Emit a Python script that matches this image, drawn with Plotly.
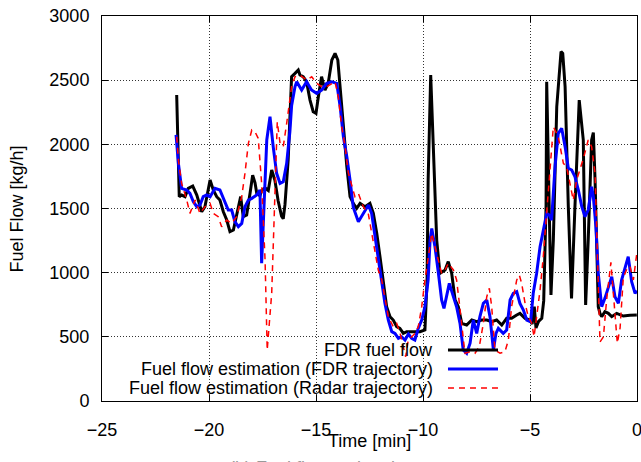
import plotly.graph_objects as go

# ---- data (time in minutes, fuel flow in kg/h) ----
fdr_t = [-21.51,-21.39,-21.28,-21.12,-20.97,-20.76,-20.57,-20.34,-20.19,-19.95,-19.80,-19.64,-19.49,-19.33,-19.17,-19.02,-18.86,-18.71,-18.52,-18.40,-18.24,-18.08,-17.96,-17.85,-17.77,-17.62,-17.54,-17.38,-17.23,-17.07,-16.92,-16.77,-16.61,-16.53,-16.45,-16.30,-16.14,-15.98,-15.83,-15.75,-15.60,-15.44,-15.28,-15.13,-15.00,-14.89,-14.74,-14.58,-14.43,-14.26,-14.11,-13.98,-13.87,-13.72,-13.56,-13.41,-13.26,-13.10,-12.94,-12.71,-12.48,-12.32,-12.16,-12.01,-11.85,-11.70,-11.54,-11.39,-11.23,-11.08,-10.92,-10.76,-10.61,-10.14,-9.91,-9.81,-9.76,-9.64,-9.36,-9.21,-8.97,-8.82,-8.66,-8.50,-8.35,-8.19,-7.96,-7.72,-7.49,-7.26,-7.02,-6.79,-6.56,-6.32,-6.09,-5.86,-5.62,-5.47,-5.23,-5.00,-4.90,-4.80,-4.72,-4.60,-4.45,-4.36,-4.25,-4.22,-4.02,-3.91,-3.75,-3.60,-3.55,-3.47,-3.36,-3.21,-3.06,-2.90,-2.74,-2.70,-2.51,-2.40,-2.28,-2.12,-2.04,-1.96,-1.81,-1.73,-1.65,-1.50,-1.34,-1.18,-0.95,-0.64,-0.33,-0.01]
fdr_v = [2384,1592,1605,1592,1657,1675,1605,1475,1514,1722,1644,1592,1566,1475,1410,1319,1332,1436,1592,1436,1449,1620,1760,1700,1620,1600,1640,1660,1640,1800,1720,1560,1440,1420,1530,1880,2527,2553,2579,2540,2527,2488,2345,2254,2241,2371,2527,2423,2475,2657,2709,2657,2449,2111,1826,1592,1540,1501,1540,1514,1540,1462,1306,1124,917,735,657,631,579,566,527,540,540,540,553,943,1722,2540,1254,995,1021,1086,995,787,735,605,592,631,618,631,631,618,631,592,644,644,670,683,644,631,600,735,570,620,644,780,1514,2488,826,1254,2293,2683,2722,2709,2450,1514,800,1514,2293,2345,2034,748,1254,2034,2091,1722,735,683,657,696,683,657,683,662,668,670]

est_fdr_t = [-21.54,-21.43,-21.28,-21.04,-20.89,-20.73,-20.57,-20.42,-20.27,-20.11,-19.95,-19.72,-19.49,-19.25,-19.10,-18.94,-18.79,-18.63,-18.47,-18.32,-18.16,-18.00,-17.77,-17.62,-17.54,-17.30,-17.15,-17.00,-16.84,-16.68,-16.53,-16.37,-16.22,-16.14,-15.98,-15.90,-15.67,-15.44,-15.21,-14.97,-14.74,-14.50,-14.26,-14.03,-13.87,-13.72,-13.56,-13.41,-13.26,-13.02,-12.79,-12.55,-12.40,-12.24,-12.09,-11.93,-11.78,-11.62,-11.46,-11.31,-11.15,-11.00,-10.84,-10.68,-10.53,-10.38,-10.22,-10.06,-9.91,-9.76,-9.67,-9.59,-9.44,-9.28,-9.13,-9.02,-8.89,-8.77,-8.58,-8.43,-8.27,-8.12,-7.96,-7.80,-7.65,-7.49,-7.34,-7.18,-7.02,-6.87,-6.71,-6.59,-6.48,-6.25,-6.09,-5.93,-5.78,-5.62,-5.47,-5.31,-5.15,-4.97,-4.85,-4.69,-4.53,-4.38,-4.22,-4.10,-3.99,-3.83,-3.68,-3.52,-3.36,-3.21,-3.05,-2.90,-2.74,-2.58,-2.43,-2.28,-2.12,-2.04,-1.92,-1.81,-1.65,-1.50,-1.34,-1.18,-1.03,-0.87,-0.72,-0.56,-0.41,-0.25,-0.09,-0.01]
est_fdr_v = [2073,1852,1657,1644,1618,1553,1514,1527,1592,1605,1592,1657,1644,1540,1488,1488,1397,1358,1384,1514,1566,1579,1605,1644,1073,2034,2215,1982,1774,1696,1709,1852,2100,2300,2450,2488,2423,2488,2423,2397,2423,2475,2488,2475,2293,2059,1904,1722,1510,1397,1462,1527,1462,1280,1124,943,761,631,540,527,488,501,475,522,488,475,566,631,735,943,1254,1345,1202,995,787,722,839,917,813,735,605,397,372,450,631,527,657,761,787,657,397,527,566,527,553,787,839,852,761,709,631,618,839,995,1202,1332,1462,1449,1410,1826,2086,2125,1982,1813,1800,1748,1644,1514,1436,1488,1670,1592,1358,995,735,800,891,969,813,761,943,1047,1125,930,839,860]

est_radar_t = [-21.51,-21.43,-21.28,-21.04,-20.89,-20.65,-20.42,-20.19,-19.95,-19.80,-19.57,-19.41,-19.17,-18.94,-18.71,-18.47,-18.32,-18.16,-18.00,-17.85,-17.70,-17.54,-17.38,-17.28,-17.07,-16.92,-16.81,-16.68,-16.53,-16.37,-16.14,-15.98,-15.75,-15.43,-15.20,-14.97,-14.73,-14.50,-14.27,-14.11,-13.96,-13.80,-13.64,-13.49,-13.33,-13.18,-13.02,-12.79,-12.56,-12.40,-12.24,-12.09,-11.93,-11.78,-11.62,-11.39,-11.23,-11.07,-10.92,-10.81,-10.69,-10.53,-10.37,-10.22,-10.06,-9.91,-9.75,-9.59,-9.44,-9.28,-9.13,-8.97,-8.82,-8.58,-8.43,-8.30,-8.19,-8.04,-7.80,-7.57,-7.37,-7.18,-7.02,-6.90,-6.79,-6.64,-6.40,-6.17,-6.01,-5.86,-5.62,-5.50,-5.39,-5.23,-5.08,-4.92,-4.81,-4.69,-4.53,-4.38,-4.22,-4.07,-3.91,-3.68,-3.44,-3.29,-3.13,-2.98,-2.82,-2.66,-2.48,-2.28,-2.12,-1.96,-1.88,-1.80,-1.73,-1.57,-1.42,-1.22,-1.12,-1.03,-0.92,-0.79,-0.64,-0.45,-0.33,-0.17,-0.01]
est_radar_v = [2059,1878,1696,1566,1462,1566,1462,1514,1540,1462,1436,1358,1410,1384,1436,1592,1774,2008,2112,2098,2047,1696,1099,397,839,1618,2176,2008,1982,2164,2450,2527,2540,2501,2527,2475,2449,2449,2475,2488,2371,2137,1982,1780,1680,1592,1618,1514,1462,1306,1150,1021,943,813,657,579,605,527,423,345,475,501,527,579,735,943,1124,1306,1202,1099,995,1021,1073,1021,943,761,579,372,384,372,423,605,813,878,735,397,372,384,475,735,943,982,917,761,657,605,501,657,865,1124,1462,1826,2137,2059,1852,1826,1696,1566,1722,1800,1904,2034,1982,1774,1254,700,460,500,787,1080,880,640,450,570,960,1040,1050,943,1150]

series_names = ["FDR fuel flow",
                "Fuel flow estimation (FDR trajectory)",
                "Fuel flow estimation (Radar trajectory)"]
x_ticks = [-25, -20, -15, -10, -5, 0]
y_ticks = [0, 500, 1000, 1500, 2000, 2500, 3000]

FONT = "Liberation Sans, Arial, Helvetica, sans-serif"
styles = [dict(color="#000000", width=3, dash="solid"),
          dict(color="#0000ff", width=3, dash="solid"),
          dict(color="#ff0000", width=1.5, dash="6px,5px")]

fig = go.Figure()
for (xs, ys), name, st in zip([(fdr_t, fdr_v), (est_fdr_t, est_fdr_v), (est_radar_t, est_radar_v)],
                              series_names, styles):
    fig.add_trace(go.Scatter(x=xs, y=ys, mode="lines", name=name, line=st,
                             showlegend=False, cliponaxis=True))

# legend drawn gnuplot-style: right-aligned text then line sample
leg_y = [0.1325, 0.0831, 0.0338]
annotations = []
shapes = []
for name, st, yy in zip(series_names, styles, leg_y):
    annotations.append(dict(text=name, xref="paper", yref="paper", x=0.6224, y=yy,
                            xanchor="right", yanchor="middle", showarrow=False,
                            font=dict(family=FONT, size=18, color="black")))
    shapes.append(dict(type="line", xref="paper", yref="paper", x0=0.6467, x1=0.7402,
                       y0=yy, y1=yy, line=st))

annotations.append(dict(text="Time [min]", xref="paper", yref="paper", x=0.5, y=-0.104,
                        xanchor="center", yanchor="middle", showarrow=False,
                        font=dict(family=FONT, size=18, color="black")))
annotations.append(dict(text="Fuel Flow [kg/h]", xref="paper", yref="paper", x=-0.159, y=0.5,
                        xanchor="center", yanchor="middle", textangle=-90, showarrow=False,
                        font=dict(family=FONT, size=18, color="black")))
annotations.append(dict(text="(b) Fuel flow estimation", xref="paper", yref="paper", x=0.411, y=-0.142,
                        xanchor="center", yanchor="top", showarrow=False,
                        font=dict(family=FONT, size=18, color="#999999")))

axis_common = dict(showline=True, linecolor="black", linewidth=1, mirror="all",
                   ticks="inside", ticklen=6, tickwidth=1, tickcolor="black",
                   showgrid=True, gridcolor="#333333", gridwidth=1, griddash="1px,2px",
                   zeroline=False, ticklabeloverflow="allow", automargin=False,
                   tickfont=dict(family=FONT, size=18, color="black"))

fig.update_layout(
    width=641, height=462,
    margin=dict(l=102, r=4, t=16, b=61, autoexpand=False),
    paper_bgcolor="white", plot_bgcolor="white",
    xaxis=dict(range=[-25, 0], tickvals=x_ticks, ticklabelstandoff=12, **axis_common),
    yaxis=dict(range=[0, 3000], tickvals=y_ticks, ticklabelstandoff=8, **axis_common),
    annotations=annotations, shapes=shapes,
)
fig.write_html("out.html")
